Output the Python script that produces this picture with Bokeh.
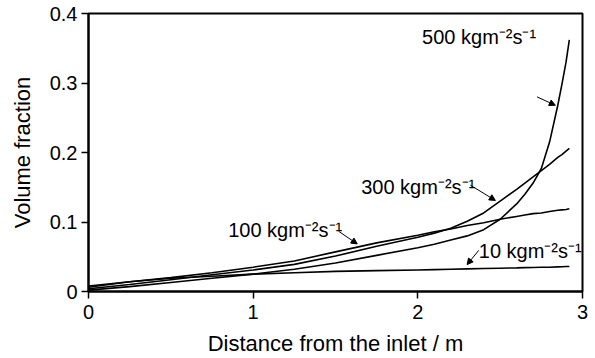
from bokeh.plotting import figure
from bokeh.models import Range1d, Arrow, NormalHead, FixedTicker
from bokeh.core.properties import value
from bokeh.embed import file_html
from bokeh.resources import INLINE

# distance from inlet (m)
x_pts = [0.0, 0.25, 0.5, 0.75, 1.0, 1.25, 1.5, 1.75, 2.0, 2.1, 2.2, 2.3, 2.4, 2.5,
         2.6, 2.65, 2.7, 2.75, 2.8, 2.85, 2.875, 2.9, 2.92]
# volume fraction for each mass flux
vf_10 = [0.006, 0.014, 0.019, 0.022, 0.025, 0.027, 0.029, 0.030, 0.031, 0.0315, 0.032,
         0.0325, 0.033, 0.0335, 0.034, 0.0343, 0.0345, 0.035, 0.035, 0.0355, 0.0357,
         0.036, 0.036]
vf_100 = [0.008, 0.014, 0.020, 0.027, 0.035, 0.044, 0.057, 0.070, 0.081, 0.086, 0.090,
          0.095, 0.099, 0.104, 0.108, 0.110, 0.112, 0.113, 0.115, 0.117, 0.1175, 0.118,
          0.119]
vf_300 = [0.004, 0.010, 0.017, 0.024, 0.031, 0.039, 0.051, 0.065, 0.078, 0.084, 0.091,
          0.101, 0.113, 0.130, 0.147, 0.156, 0.165, 0.174, 0.183, 0.193, 0.197, 0.202,
          0.206]
vf_500 = [0.002, 0.007, 0.013, 0.019, 0.025, 0.032, 0.041, 0.052, 0.063, 0.068, 0.074,
          0.080, 0.089, 0.104, 0.126, 0.140, 0.156, 0.177, 0.215, 0.268, 0.298, 0.330,
          0.362]

label_texts = ["500 kgm\u207b\u00b2s\u207b\u00b9", "300 kgm\u207b\u00b2s\u207b\u00b9",
               "100 kgm\u207b\u00b2s\u207b\u00b9", "10 kgm\u207b\u00b2s\u207b\u00b9"]
label_x = [2.026, 1.656, 0.848, 2.370]
label_y = [0.366, 0.151, 0.088, 0.058]
arrow_start_x = [2.724, 2.319, 1.520, 2.370]
arrow_start_y = [0.280, 0.153, 0.0865, 0.0592]
arrow_end_x = [2.835, 2.471, 1.632, 2.299]
arrow_end_y = [0.268, 0.131, 0.0684, 0.0387]

x_ticks = [0, 1, 2, 3]
y_ticks = [0, 0.1, 0.2, 0.3, 0.4]

FONT = "Liberation Sans"

p = figure(width=595, height=358, output_backend="svg", toolbar_location=None,
           x_range=Range1d(0, 3), y_range=Range1d(0, 0.4),
           min_border_left=88, min_border_right=13, min_border_top=13, min_border_bottom=66)
p.grid.visible = False
p.outline_line_color = "black"
p.outline_line_width = 2
p.outline_line_alpha = 1.0
p.background_fill_color = "white"
p.border_fill_color = "white"

for ax in (p.xaxis[0], p.yaxis[0]):
    ax.axis_line_width = 2
    ax.axis_line_color = "black"
    ax.major_tick_line_width = 1.5
    ax.major_tick_out = 7
    ax.major_tick_in = 0
    ax.minor_tick_line_color = None
    ax.major_label_text_font = FONT
    ax.major_label_text_font_size = "20px"
    ax.major_label_text_color = "black"
    ax.axis_label_text_font = FONT
    ax.axis_label_text_font_size = "22px"
    ax.axis_label_text_font_style = "normal"
    ax.axis_label_text_color = "black"

p.xaxis.ticker = FixedTicker(ticks=x_ticks)
p.yaxis.ticker = FixedTicker(ticks=y_ticks)
p.yaxis.major_label_overrides = {0: "0"}
p.xaxis.axis_label = "Distance from the inlet / m"
p.yaxis.axis_label = "Volume fraction"
p.xaxis.major_label_standoff = 6
p.xaxis.axis_label_standoff = 9
p.yaxis.major_label_standoff = 4
p.yaxis.axis_label_standoff = 12

for series in (vf_10, vf_100, vf_300, vf_500):
    p.line(x_pts, series, line_color="black", line_width=1.6)

p.text(x=label_x, y=label_y, text=label_texts, text_font=value(FONT),
       text_font_size="20px", text_color="black", text_baseline="alphabetic",
       text_align="left")

for sx, sy, ex, ey in zip(arrow_start_x, arrow_start_y, arrow_end_x, arrow_end_y):
    p.add_layout(Arrow(x_start=sx, y_start=sy, x_end=ex, y_end=ey,
                       line_color="black", line_width=1,
                       end=NormalHead(size=6, fill_color="black", line_color="black")))

open("out.html", "w").write(file_html(p, INLINE))
